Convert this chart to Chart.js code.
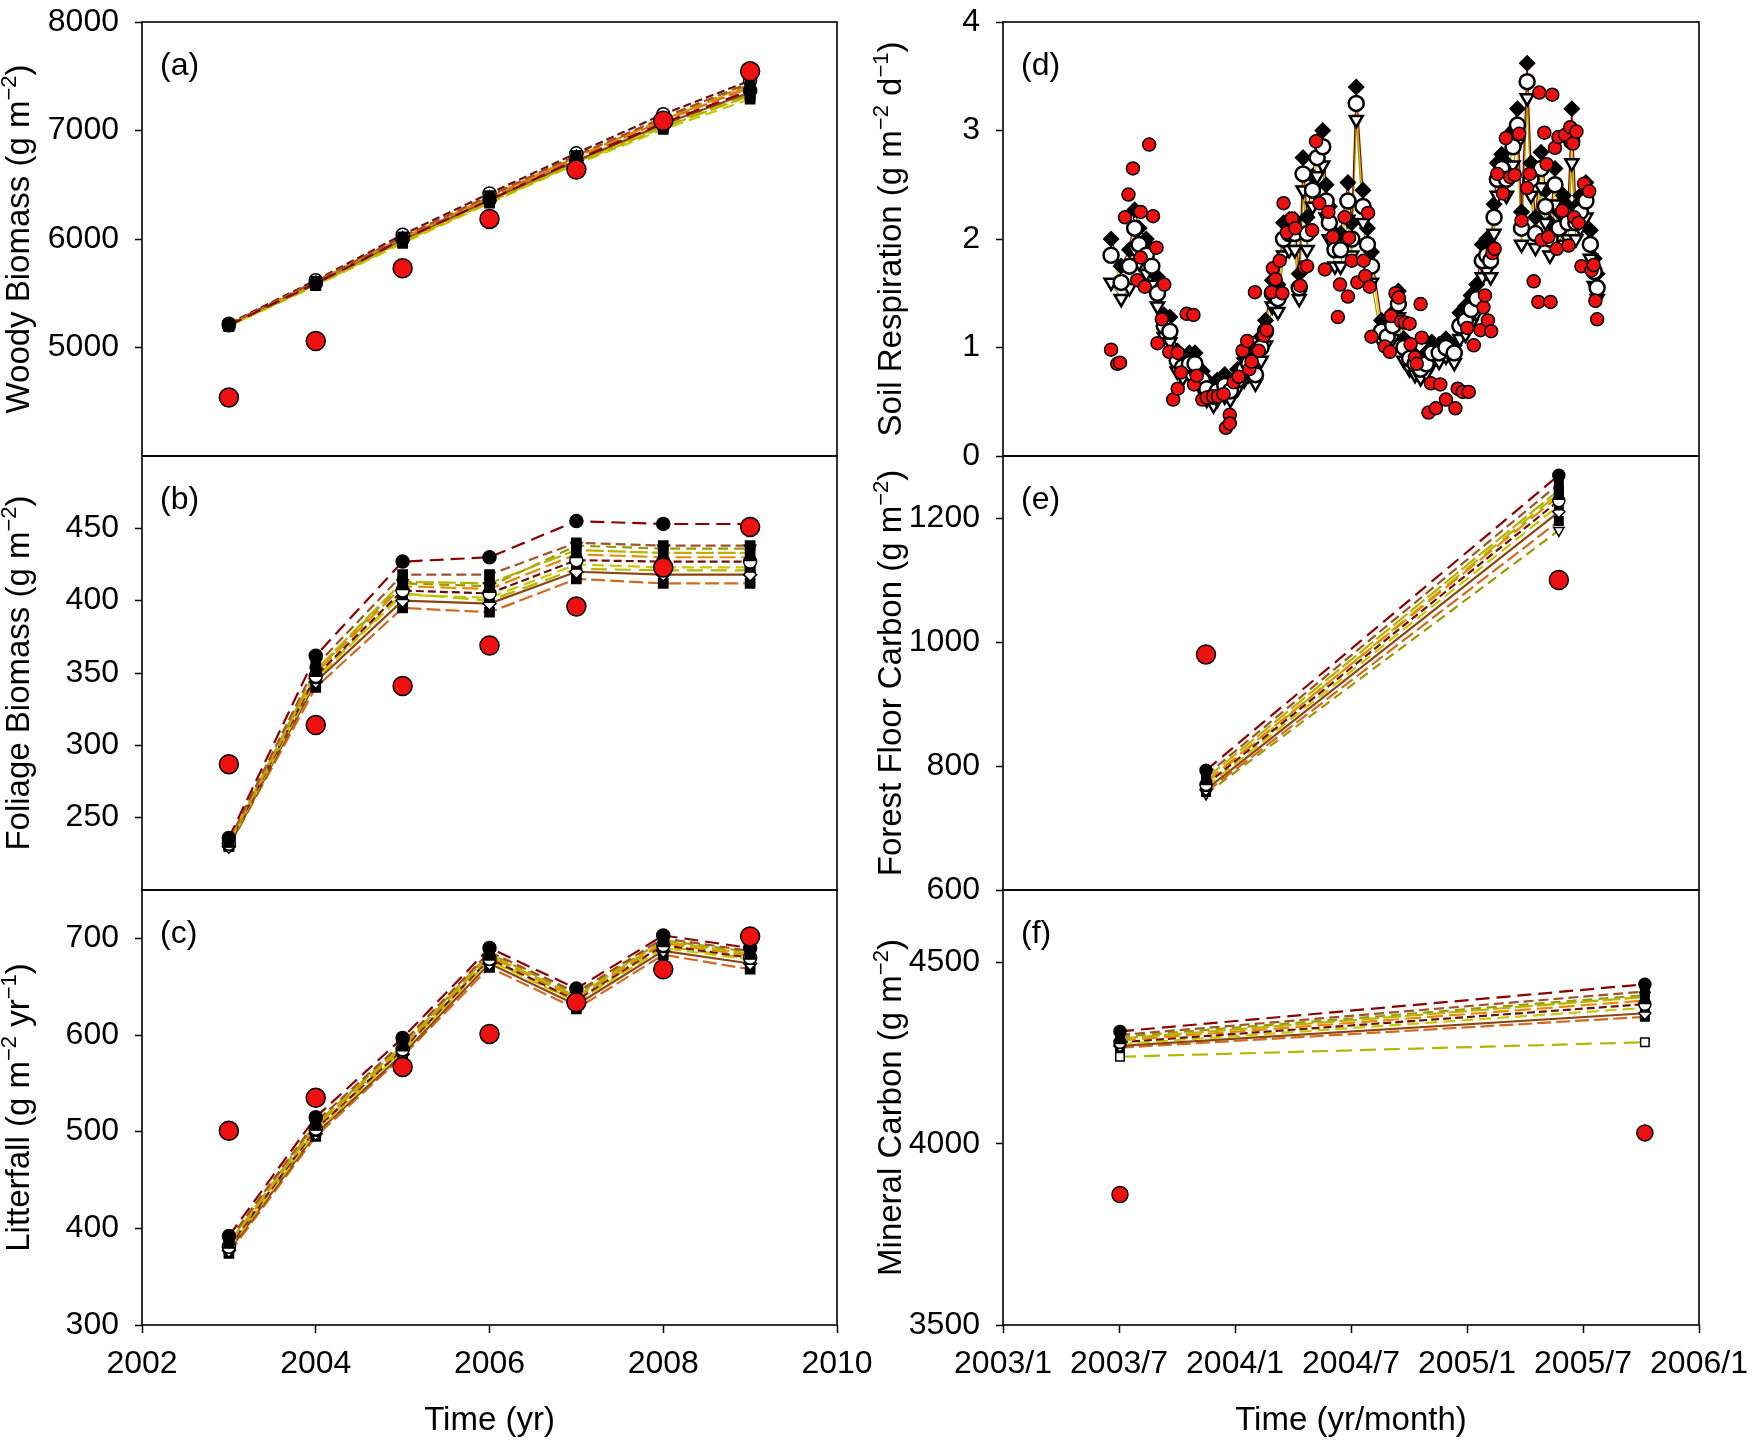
<!DOCTYPE html>
<html>
<head>
<meta charset="utf-8">
<script src="https://cdn.jsdelivr.net/npm/chart.js@4.4.0/dist/chart.umd.min.js"></script>
<style>
  body { margin: 0; background: #fff; }
  #page { position: relative; width: 1752px; height: 1440px; overflow: hidden; background: #fff; }
  #page canvas { position: absolute; left: 0; top: 0; }
</style>
</head>
<body>
<div id="page">
  <canvas id="panelA"></canvas>
  <canvas id="panelB"></canvas>
  <canvas id="panelC"></canvas>
  <canvas id="panelD"></canvas>
  <canvas id="panelE"></canvas>
  <canvas id="panelF"></canvas>
</div>
<script>
// ---- axes ----
const yearTickValues = [2002, 2004, 2006, 2008, 2010];
const yearTickLabels = ['2002', '2004', '2006', '2008', '2010'];
// months counted from 2003/1
const monthTickValues = [0, 6, 12, 18, 24, 30, 36];
const monthTickLabels = ['2003/1', '2003/7', '2004/1', '2004/7', '2005/1', '2005/7', '2006/1'];

const woodyTicks = [5000, 6000, 7000, 8000];
const foliageTicks = [250, 300, 350, 400, 450];
const litterTicks = [300, 400, 500, 600, 700];
const respTicks = [0, 1, 2, 3, 4];
const floorTicks = [600, 800, 1000, 1200];
const mineralTicks = [3500, 4000, 4500];

// ---- annual panels (a)-(c) ----
const years = [2003, 2004, 2005, 2006, 2007, 2008, 2009];

const woodyObs = [4540, 5060, 5730, 6185, 6640, 7090, 7545];
const woodyRuns = [
  [5205, 5590, 5995, 6360, 6730, 7070, 7370],
  [5215, 5610, 6020, 6400, 6770, 7120, 7440],
  [5200, 5575, 5975, 6340, 6700, 7030, 7320],
  [5210, 5600, 6010, 6385, 6760, 7100, 7410],
  [5220, 5620, 6040, 6420, 6790, 7150, 7460],
  [5195, 5570, 5960, 6330, 6690, 7010, 7290],
  [5210, 5585, 5990, 6355, 6720, 7060, 7350],
  [5205, 5595, 6005, 6375, 6745, 7090, 7395],
  [5215, 5605, 6015, 6390, 6755, 7110, 7425],
  [5200, 5580, 5985, 6350, 6710, 7045, 7335]
];

const foliageObs = [287, 314, 341, 369, 396, 423, 451];
const foliageRuns = [
  [236, 362, 427, 430, 455, 453, 453],
  [234, 355, 418, 418, 440, 438, 438],
  [233, 352, 413, 412, 435, 433, 433],
  [232, 350, 410, 408, 432, 430, 430],
  [232, 348, 407, 405, 428, 427, 427],
  [231, 346, 404, 402, 425, 423, 423],
  [230, 344, 400, 398, 420, 418, 418],
  [230, 340, 395, 392, 415, 412, 412],
  [233, 351, 412, 410, 438, 436, 436],
  [231, 347, 405, 400, 422, 421, 421]
];

const litterObs = [501, 535, 567, 601, 634, 668, 702];
const litterRuns = [
  [392, 515, 597, 690, 648, 703, 690],
  [388, 510, 592, 686, 644, 700, 687],
  [385, 507, 589, 683, 640, 697, 684],
  [383, 505, 587, 681, 638, 695, 682],
  [381, 503, 585, 679, 636, 693, 680],
  [379, 500, 583, 677, 634, 690, 678],
  [377, 498, 580, 674, 631, 687, 674],
  [374, 495, 578, 670, 627, 683, 668],
  [386, 508, 590, 684, 642, 698, 686],
  [380, 502, 584, 678, 635, 692, 679]
];

// ---- soil respiration (d), months from 2003/1 ----
const respModelMonth = [
  5.59, 6.11, 6.54, 6.81, 7.04, 7.41, 7.70, 7.99, 8.34, 8.63,
  9.01, 9.30, 9.64, 9.93, 10.31, 10.54, 10.89, 11.09, 11.47, 11.76,
  12.13, 12.48, 12.71, 13.06, 13.35, 13.58, 13.93, 14.22, 14.51, 14.80,
  15.09, 15.32, 15.52, 15.73, 16.01, 16.25, 16.54, 16.71, 16.88, 17.17,
  17.46, 17.84, 18.04, 18.27, 18.62, 18.85, 19.06, 19.58, 19.87, 20.16,
  20.45, 20.74, 21.03, 21.31, 21.60, 21.89, 22.18, 22.56, 22.91, 23.34,
  23.63, 23.92, 24.21, 24.50, 24.79, 25.02, 25.22, 25.40, 25.57, 25.80,
  26.04, 26.38, 26.61, 26.82, 27.11, 27.31, 27.54, 27.83, 28.06, 28.29,
  28.55, 28.76, 28.99, 29.22, 29.42, 29.63, 29.86, 30.15, 30.38, 30.58,
  30.73
];
const respModelMid = [
  1.85, 1.60, 1.75, 2.10, 1.95, 1.85, 1.75, 1.50, 1.20, 1.15,
  0.88, 0.82, 0.85, 0.85, 0.70, 0.62, 0.55, 0.60, 0.65, 0.60,
  0.70, 0.80, 0.85, 0.75, 1.00, 1.15, 1.50, 1.45, 2.00, 2.05,
  2.05, 1.55, 2.60, 2.05, 2.45, 2.75, 2.85, 2.35, 2.15, 1.90,
  1.90, 2.35, 2.00, 3.25, 2.30, 1.95, 1.75, 1.15, 1.10, 1.20,
  1.40, 1.00, 0.90, 0.85, 0.80, 0.85, 0.95, 0.95, 1.00, 0.95,
  1.20, 1.25, 1.35, 1.45, 1.80, 1.85, 1.80, 2.20, 2.55, 2.65,
  2.55, 2.85, 3.05, 2.10, 3.45, 2.55, 2.05, 2.65, 2.30, 2.00,
  2.50, 2.10, 2.25, 2.15, 2.90, 2.15, 2.25, 2.35, 1.95, 1.70,
  1.55
];
const respModelHigh = [
  2.00, 1.75, 1.90, 2.27, 2.10, 2.00, 1.90, 1.65, 1.30, 1.28,
  0.97, 0.92, 0.95, 0.95, 0.78, 0.70, 0.62, 0.70, 0.75, 0.70,
  0.80, 0.90, 0.97, 0.85, 1.10, 1.25, 1.62, 1.58, 2.15, 2.18,
  2.18, 1.68, 2.75, 2.20, 2.58, 2.90, 3.00, 2.50, 2.30, 2.05,
  2.05, 2.52, 2.15, 3.40, 2.45, 2.10, 1.88, 1.25, 1.22, 1.32,
  1.52, 1.08, 0.98, 0.93, 0.90, 0.95, 1.05, 1.03, 1.08, 1.02,
  1.32, 1.38, 1.48, 1.58, 1.95, 2.00, 1.95, 2.32, 2.70, 2.78,
  2.70, 3.00, 3.20, 2.25, 3.62, 2.70, 2.20, 2.80, 2.45, 2.15,
  2.65, 2.25, 2.40, 2.30, 3.20, 2.30, 2.40, 2.52, 2.08, 1.82,
  1.68
];
const respModelLow = [
  1.60, 1.45, 1.55, 1.90, 1.78, 1.68, 1.58, 1.38, 1.10, 1.05,
  0.78, 0.72, 0.75, 0.75, 0.60, 0.52, 0.47, 0.52, 0.55, 0.52,
  0.62, 0.70, 0.75, 0.67, 0.88, 1.02, 1.38, 1.33, 1.85, 1.90,
  1.90, 1.45, 2.45, 1.90, 2.30, 2.58, 2.68, 2.20, 2.00, 1.75,
  1.75, 2.18, 1.85, 3.10, 2.15, 1.80, 1.60, 1.05, 1.00, 1.08,
  1.28, 0.88, 0.80, 0.75, 0.72, 0.76, 0.85, 0.87, 0.92, 0.86,
  1.08, 1.12, 1.22, 1.32, 1.65, 1.70, 1.65, 2.05, 2.40, 2.50,
  2.40, 2.68, 2.88, 1.95, 3.30, 2.40, 1.92, 2.48, 2.15, 1.85,
  2.32, 1.95, 2.10, 2.00, 2.70, 2.00, 2.10, 2.20, 1.82, 1.57,
  1.45
];
const respObsMonth = [
  5.59, 5.91, 6.05, 6.31, 6.49, 6.72, 6.95, 7.12, 7.12, 7.33,
  7.56, 7.76, 7.94, 7.99, 8.22, 8.34, 8.60, 8.80, 9.04, 9.04,
  9.21, 9.50, 9.85, 9.88, 10.02, 10.31, 10.54, 10.86, 11.12, 11.41,
  11.53, 11.73, 11.73, 11.93, 12.19, 12.39, 12.63, 12.74, 12.86, 13.03,
  13.23, 13.50, 13.64, 13.90, 13.96, 14.10, 14.31, 14.45, 14.51, 14.68,
  14.94, 15.12, 15.38, 15.58, 15.73, 15.99, 16.19, 16.36, 16.65, 16.83,
  17.06, 17.32, 17.43, 17.67, 17.84, 17.90, 18.04, 18.33, 18.65, 18.74,
  18.88, 18.97, 19.06, 19.75, 20.01, 20.07, 20.30, 20.47, 20.59, 20.79,
  21.03, 21.08, 21.31, 21.40, 21.60, 21.66, 22.01, 22.13, 22.39, 22.62,
  22.91, 23.40, 23.52, 23.78, 24.01, 24.09, 24.35, 24.70, 24.85, 24.93,
  25.08, 25.25, 25.31, 25.43, 25.57, 25.86, 26.01, 26.24, 26.47, 26.70,
  26.82, 27.11, 27.25, 27.45, 27.69, 27.74, 27.86, 28.00, 28.12, 28.21,
  28.32, 28.41, 28.55, 28.64, 28.73, 28.93, 29.08, 29.25, 29.34, 29.48,
  29.54, 29.66, 29.77, 29.92, 30.06, 30.32, 30.44, 30.55, 30.64, 30.73
];
const respObsValue = [
  0.98, 0.85, 0.86, 2.20, 2.41, 2.65, 1.62, 2.25, 1.83, 1.56,
  2.87, 2.21, 1.92, 1.04, 1.26, 1.58, 0.96, 0.52, 0.62, 0.95,
  0.77, 1.31, 1.30, 0.66, 0.74, 0.52, 0.54, 0.55, 0.55, 0.57,
  0.26, 0.38, 0.30, 0.68, 0.73, 0.97, 1.06, 0.80, 0.87, 1.51,
  0.97, 1.11, 1.16, 1.51, 1.73, 1.63, 1.80, 1.50, 2.33, 2.06,
  2.19, 2.10, 1.57, 1.74, 1.75, 2.08, 2.90, 2.33, 1.72, 2.25,
  2.02, 1.28, 1.58, 2.20, 1.47, 2.01, 1.80, 1.60, 1.80, 1.66,
  2.24, 1.56, 1.10, 1.01, 0.96, 1.29, 1.50, 1.46, 1.24, 1.23,
  1.22, 1.03, 0.91, 0.85, 1.40, 1.09, 0.40, 0.67, 0.44, 0.66,
  0.52, 0.44, 0.62, 0.59, 1.18, 0.59, 1.02, 1.16, 1.37, 1.48,
  1.25, 1.15, 1.87, 1.91, 2.60, 2.42, 2.93, 2.57, 2.59, 2.97,
  2.17, 2.47, 2.60, 1.61, 1.42, 3.35, 1.99, 2.98, 2.69, 2.02,
  1.42, 3.33, 2.84, 1.91, 2.94, 2.26, 2.96, 1.94, 3.03, 2.88,
  2.20, 2.99, 2.15, 1.75, 2.51, 2.44, 1.71, 1.76, 1.43, 1.26
];

// ---- forest floor (e) and mineral carbon (f) ----
const floorMonths = [10.5, 28.75];
const floorObs = [980, 1100];
const floorRuns = [
  [793, 1269], [785, 1255], [780, 1245], [775, 1235], [770, 1228],
  [766, 1220], [762, 1210], [758, 1195], [755, 1180], [772, 1240]
];

const mineralMonths = [6.05, 33.2];
const mineralObs = [3860, 4030];
const mineralRuns = [
  [4310, 4440], [4300, 4420], [4290, 4405], [4285, 4395], [4280, 4385],
  [4275, 4375], [4270, 4360], [4265, 4350], [4295, 4410], [4240, 4280]
];

// ---- styling ----
const FONT = "'Liberation Sans', Arial, Helvetica, sans-serif";
const OBS_RED = '#EE1111';
const runColors = ['#8B0000', '#A0522D', '#B3B300', '#E68A00', '#6B0F0F',
                   '#C8C800', '#8B4513', '#D2691E', '#999900', '#B5B800'];
const runDashes = [[14, 7], [10, 5], [18, 4], [16, 6], [8, 4], [12, 6], [], [14, 5], [10, 6], [16, 8]];
const runMarkers = [
  { style: 'circle', fill: '#000' },
  { style: 'rect', fill: '#000' },
  { style: 'rect', fill: '#000' },
  { style: 'triangle', fill: '#000' },
  { style: 'circle', fill: '#fff' },
  { style: 'rect', fill: '#000' },
  { style: 'rectRot', fill: '#fff' },
  { style: 'rect', fill: '#000' },
  { style: 'triangle', fill: '#fff', rot: 180 },
  { style: 'rect', fill: '#fff' }
];

const rows = [{ top: 22, bottom: 456 }, { top: 456, bottom: 890 }, { top: 890, bottom: 1325 }];
const cols = [{ left: 142, right: 837, yw: 142, titleX: 17 },
              { left: 1003, right: 1699, yw: 127, titleX: 889 }];

function toPoints(xs, ys) {
  return ys.map((v, i) => ({ x: xs[i], y: v }));
}

function runDatasets(xs, runs, radius) {
  const lines = runs.map((r, i) => ({
    data: toPoints(xs, r),
    showLine: true,
    borderColor: runColors[i % runColors.length],
    borderDash: runDashes[i % runDashes.length],
    borderWidth: 2.2,
    pointRadius: 0,
    order: 3
  }));
  const marks = runs.map((r, i) => ({
    data: toPoints(xs, r),
    showLine: false,
    pointStyle: runMarkers[i].style,
    pointRotation: runMarkers[i].rot || 0,
    pointRadius: radius,
    pointBackgroundColor: runMarkers[i].fill,
    pointBorderColor: '#000',
    pointBorderWidth: 1.5,
    order: 2
  }));
  return lines.concat(marks);
}

function obsDataset(xs, ys, radius) {
  return {
    data: toPoints(xs, ys),
    showLine: false,
    pointStyle: 'circle',
    pointRadius: radius,
    pointBackgroundColor: OBS_RED,
    pointBorderColor: '#000',
    pointBorderWidth: 1.5,
    order: 0
  };
}

// rich text: segments [text, isSuperscript]
function drawRich(ctx, segs, size, cx, cy) {
  const supSize = Math.round(size * 0.68);
  let total = 0;
  segs.forEach(([t, sup]) => {
    ctx.font = `${sup ? supSize : size}px ${FONT}`;
    total += ctx.measureText(t).width;
  });
  let x = cx - total / 2;
  const base = cy + size * 0.36;
  ctx.textAlign = 'left';
  ctx.textBaseline = 'alphabetic';
  segs.forEach(([t, sup]) => {
    ctx.font = `${sup ? supSize : size}px ${FONT}`;
    ctx.fillText(t, x, sup ? base - size * 0.4 : base);
    x += ctx.measureText(t).width;
  });
}

const decor = {
  id: 'decor',
  afterDraw(chart, args, opts) {
    const { ctx, chartArea: a } = chart;
    ctx.save();
    ctx.strokeStyle = '#000';
    ctx.lineWidth = 1.6;
    ctx.strokeRect(a.left, a.top, a.right - a.left, a.bottom - a.top);
    ctx.fillStyle = '#000';
    ctx.font = `32px ${FONT}`;
    ctx.textAlign = 'left';
    ctx.textBaseline = 'middle';
    ctx.fillText(opts.letter, a.left + 18, a.top + 44);
    // y title, rotated
    ctx.save();
    ctx.translate(opts.titleX, (a.top + a.bottom) / 2);
    ctx.rotate(-Math.PI / 2);
    drawRich(ctx, opts.yTitle, 33, 0, 0);
    ctx.restore();
    if (opts.xTitle) {
      drawRich(ctx, [[opts.xTitle, false]], 33, (a.left + a.right) / 2, 1418);
    }
    ctx.restore();
  }
};

function makePanel(id, p) {
  const col = cols[p.col];
  const row = rows[p.row];
  const xh = p.xTitle ? 70 : 0;
  const canvas = document.getElementById(id);
  canvas.width = 1752;
  canvas.height = 1440;
  canvas.style.width = '1752px';
  canvas.style.height = '1440px';
  const tickFont = { family: FONT, size: 32 };
  new Chart(canvas, {
    type: 'scatter',
    data: { datasets: p.datasets },
    options: {
      responsive: false,
      animation: false,
      devicePixelRatio: 1,
      events: [],
      layout: {
        padding: {
          left: col.left - col.yw,
          right: 1752 - col.right,
          top: row.top,
          bottom: 1440 - row.bottom - xh
        }
      },
      plugins: {
        legend: { display: false },
        tooltip: { enabled: false },
        decor: { letter: p.letter, yTitle: p.yTitle, xTitle: p.xTitle, titleX: col.titleX }
      },
      scales: {
        x: {
          type: 'linear',
          min: p.xMin,
          max: p.xMax,
          afterBuildTicks: s => { s.ticks = p.xTicks.map(v => ({ value: v })); },
          afterFit: s => { s.height = xh; s.paddingLeft = 0; s.paddingRight = 0; },
          border: { display: false },
          grid: { drawOnChartArea: false, drawTicks: !!p.xTitle, tickLength: 8, tickColor: '#000', tickWidth: 1.5 },
          ticks: {
            display: !!p.xTitle, autoSkip: false, maxRotation: 0, padding: 12,
            color: '#000', font: tickFont,
            callback: (v, i) => p.xLabels[i]
          }
        },
        y: {
          type: 'linear',
          min: p.yMin,
          max: p.yMax,
          afterBuildTicks: s => { s.ticks = p.yTicks.map(v => ({ value: v })); },
          afterFit: s => { s.width = col.yw; s.paddingTop = 0; s.paddingBottom = 0; },
          border: { display: false },
          grid: { drawOnChartArea: false, drawTicks: true, tickLength: 7, tickColor: '#000', tickWidth: 1.5 },
          ticks: {
            autoSkip: false, padding: 16, color: '#000', font: tickFont,
            callback: v => String(v)
          }
        }
      }
    },
    plugins: [decor]
  });
}

const leftX = { xMin: 2002, xMax: 2010, xTicks: yearTickValues, xLabels: yearTickLabels };
const rightX = { xMin: 0, xMax: 36, xTicks: monthTickValues, xLabels: monthTickLabels };
const M = '\u2212';

makePanel('panelA', Object.assign({}, leftX, {
  col: 0, row: 0, letter: '(a)', yMin: 4000, yMax: 8000, yTicks: woodyTicks,
  yTitle: [['Woody Biomass (g m', false], [M + '2', true], [')', false]],
  datasets: [obsDataset(years, woodyObs, 9.5)].concat(runDatasets(years, woodyRuns, 6.5))
}));

makePanel('panelB', Object.assign({}, leftX, {
  col: 0, row: 1, letter: '(b)', yMin: 200, yMax: 500, yTicks: foliageTicks,
  yTitle: [['Foliage Biomass (g m', false], [M + '2', true], [')', false]],
  datasets: [obsDataset(years, foliageObs, 9.5)].concat(runDatasets(years, foliageRuns, 6.5))
}));

makePanel('panelC', Object.assign({}, leftX, {
  col: 0, row: 2, letter: '(c)', yMin: 300, yMax: 750, yTicks: litterTicks,
  yTitle: [['Litterfall (g m', false], [M + '2', true], [' yr', false], [M + '1', true], [')', false]],
  xTitle: 'Time (yr)',
  datasets: [obsDataset(years, litterObs, 9.5)].concat(runDatasets(years, litterRuns, 6.5))
}));

makePanel('panelD', Object.assign({}, rightX, {
  col: 1, row: 0, letter: '(d)', yMin: 0, yMax: 4, yTicks: respTicks,
  yTitle: [['Soil Respiration (g m', false], [M + '2', true], [' d', false], [M + '1', true], [')', false]],
  datasets: [
    obsDataset(respObsMonth, respObsValue, 6.5),
    { data: toPoints(respModelMonth, respModelMid), showLine: false, pointStyle: 'circle', pointRadius: 7.5,
      pointBackgroundColor: '#fff', pointBorderColor: '#000', pointBorderWidth: 2.5, order: 1 },
    { data: toPoints(respModelMonth, respModelLow), showLine: false, pointStyle: 'triangle', pointRotation: 180,
      pointRadius: 7.5, pointBackgroundColor: '#fff', pointBorderColor: '#000', pointBorderWidth: 2.5, order: 1.5 },
    { data: toPoints(respModelMonth, respModelHigh), showLine: false, pointStyle: 'rectRot', pointRadius: 7.5,
      pointBackgroundColor: '#000', pointBorderColor: '#000', pointBorderWidth: 1.5, order: 1.6 },
    { data: toPoints(respModelMonth, respModelHigh), showLine: true, borderColor: '#8B0000', borderWidth: 1.2,
      pointRadius: 0, order: 3 },
    { data: toPoints(respModelMonth, respModelLow), showLine: true, borderColor: '#999900', borderWidth: 1.2,
      pointRadius: 0, order: 3 },
    { data: toPoints(respModelMonth, respModelMid), showLine: true, borderColor: '#D4D400', borderWidth: 1.6,
      pointRadius: 0, order: 3 }
  ]
}));

makePanel('panelE', Object.assign({}, rightX, {
  col: 1, row: 1, letter: '(e)', yMin: 600, yMax: 1300, yTicks: floorTicks,
  yTitle: [['Forest Floor Carbon (g m', false], [M + '2', true], [')', false]],
  datasets: [obsDataset(floorMonths, floorObs, 9.5)].concat(runDatasets(floorMonths, floorRuns, 6))
}));

makePanel('panelF', Object.assign({}, rightX, {
  col: 1, row: 2, letter: '(f)', yMin: 3500, yMax: 4700, yTicks: mineralTicks,
  yTitle: [['Mineral Carbon (g m', false], [M + '2', true], [')', false]],
  xTitle: 'Time (yr/month)',
  datasets: [obsDataset(mineralMonths, mineralObs, 8)].concat(runDatasets(mineralMonths, mineralRuns, 6))
}));
</script>
</body>
</html>
